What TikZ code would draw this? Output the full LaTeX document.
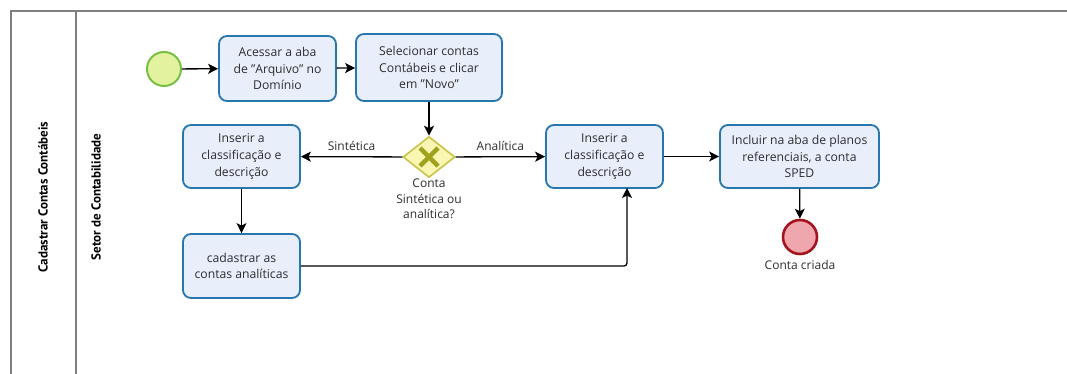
\documentclass[tikz,border=0pt]{standalone}
\usepackage{fontspec}
\setmainfont{Open Sans}
\newfontfamily\lanefont{PT Sans}
\usetikzlibrary{arrows.meta,shapes.geometric}
\definecolor{taskfill}{HTML}{E9EEFB}
\definecolor{taskdraw}{HTML}{2677AE}
\definecolor{startfill}{HTML}{E3F29E}
\definecolor{startdraw}{HTML}{78C043}
\definecolor{endfill}{HTML}{EFA6AC}
\definecolor{enddraw}{HTML}{A3141E}
\definecolor{gatefill}{HTML}{F8F6B2}
\definecolor{gatedraw}{HTML}{C9C447}
\definecolor{gatecross}{HTML}{9EA21C}
\definecolor{poolline}{HTML}{7F7F7F}
\definecolor{labeltext}{HTML}{2E2E2E}
\tikzset{
  task/.style={draw=taskdraw, fill=taskfill, line width=1.8pt, rounded corners=8pt,
    align=center, inner sep=0pt, font=\fontsize{12.2}{16.8}\selectfont, text=labeltext},
  flow/.style={draw=black, line width=1.3pt, -{Stealth[length=10pt,width=10pt,inset=2.5pt]}},
  lbl/.style={font=\fontsize{12}{15.5}\selectfont, text=labeltext, align=center, inner sep=0pt},
  lane/.style={font=\lanefont\bfseries\fontsize{13}{15}\selectfont, rotate=90, inner sep=0pt}
}
\begin{document}
\begin{tikzpicture}[x=1pt,y=-1pt]
\useasboundingbox (0,0) rectangle (1067,374);
\fill[white] (0,0) rectangle (1067,374);
% pool and lane borders
\draw[poolline, line width=1.6pt] (11,374) -- (11,11) -- (1067,11);
\draw[poolline, line width=1.2pt] (76,11) -- (76,374);
\node[lane] (pool) at (43,197) {Cadastrar Contas Contábeis};
\node[lane] (lanename) at (96,197) {Setor de Contabilidade};

% tasks
\node[task, minimum width=117pt, minimum height=65pt] (t1) at (277.5,68.5) {Acessar a aba\\de \symbol{34}Arquivo\symbol{34} no\\Domínio};
\node[task, minimum width=146pt, minimum height=67pt] (t2) at (429,67.5) {Selecionar contas\\Contábeis e clicar\\em \symbol{34}Novo\symbol{34}};
\node[task, minimum width=117pt, minimum height=63pt] (t3) at (241.5,156.5) {Inserir a\\classificação e\\descrição};
\node[task, minimum width=117pt, minimum height=64pt] (t4) at (241.5,266) {cadastrar as\\contas analíticas};
\node[task, minimum width=117pt, minimum height=63pt] (t5) at (604.5,156.5) {Inserir a\\classificação e\\descrição};
\node[task, minimum width=159pt, minimum height=63pt] (t6) at (799.5,156.5) {Incluir na aba de planos\\referenciais, a conta\\SPED};

% events
\node[circle, draw=startdraw, fill=startfill, line width=2pt, minimum size=34pt, inner sep=0pt] (start) at (164,69) {};
\node[circle, draw=enddraw, fill=endfill, line width=2.6pt, minimum size=34pt, inner sep=0pt] (end) at (800,237) {};
\node[lbl] (endlbl) at (800,265) {Conta criada};

% exclusive gateway
\node[diamond, draw=gatedraw, fill=gatefill, line width=1.6pt, minimum width=52pt, minimum height=41pt, inner sep=0pt, aspect=1.27] (gw) at (429,157) {};
\draw[gatecross, line width=4.5pt] (420,148) -- (438,166) (438,148) -- (420,166);
\node[lbl] (gwlbl) at (429,199) {Conta\\Sintética ou\\analítica?};

% sequence flows
\draw[flow] (start) -- (t1);
\draw[flow] (t1) -- (t2);
\draw[flow] (t2) -- (gw);
\draw[flow] (gw) -- node[lbl, above=6pt, pos=0.5] (lsint) {Sintética} (t3);
\draw[flow] (gw) -- node[lbl, above=6pt, pos=0.5] (lanal) {Analítica} (t5);
\draw[flow] (t3) -- (t4);
\draw[flow, rounded corners=3pt] (t4.east) -- (627,266) -- (627,188);
\draw[flow] (t5) -- (t6);
\draw[flow] (t6) -- (end);
\end{tikzpicture}
\end{document}
